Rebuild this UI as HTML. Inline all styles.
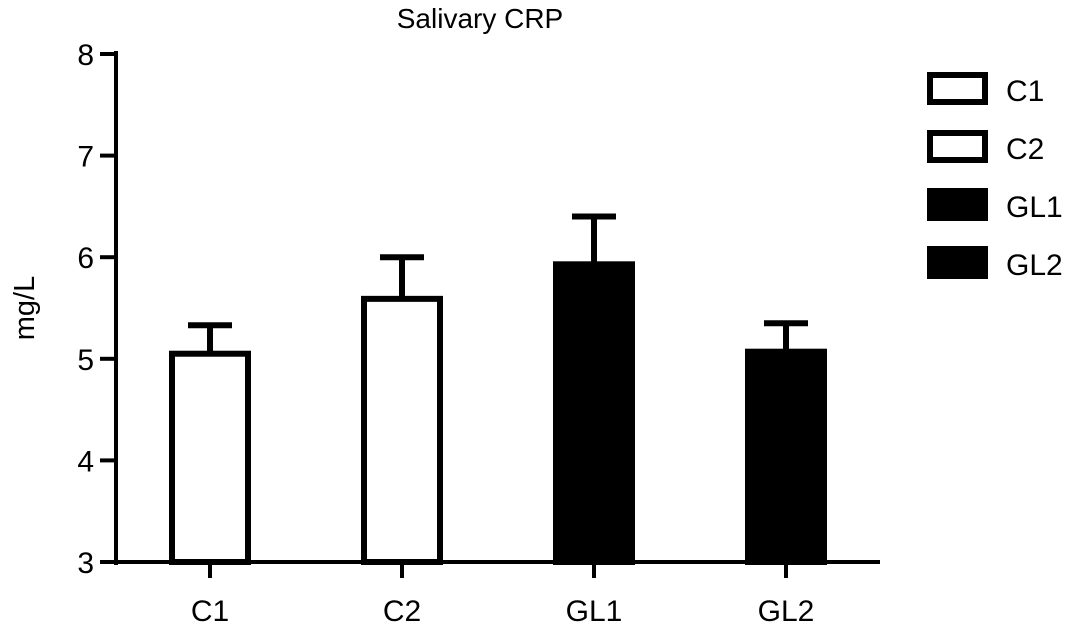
<!DOCTYPE html>
<html><head><meta charset="utf-8"><style>
body{margin:0;background:#fff;}
text{font-family:"Liberation Sans",sans-serif;fill:#000;}
</style></head><body>
<svg id="chart" width="1080" height="627" xmlns="http://www.w3.org/2000/svg">
<text x="480" y="28" font-size="28" text-anchor="middle">Salivary CRP</text>
<text transform="translate(34,308) rotate(-90)" font-size="29" text-anchor="middle">mg/L</text>
<g id="axes"></g><g id="bars"></g><g id="legend"></g>
</svg>
<script>
const categories=["C1","C2","GL1","GL2"];
const means=[5.05,5.59,5.93,5.07];
const errors=[0.28,0.41,0.47,0.28];
const fills=["#fff","#fff","#000","#000"];
const yTicks=[3,4,5,6,7,8];
const NS="http://www.w3.org/2000/svg";
const y0=562,yTop=54,vMin=3,vMax=8;
const yS=v=>y0-(v-vMin)/(vMax-vMin)*(y0-yTop);
const xS=i=>210+i*192;
function mk(tag,attrs,parent){const e=document.createElementNS(NS,tag);for(const k in attrs)e.setAttribute(k,attrs[k]);parent.appendChild(e);return e;}
const axes=document.getElementById('axes'),bars=document.getElementById('bars'),legend=document.getElementById('legend');
let l=mk('line',{x1:116,y1:yTop-3,x2:116,y2:y0+3,stroke:'#000','stroke-width':4},axes);


l=mk('line',{x1:100,y1:y0,x2:880,y2:y0,stroke:'#000','stroke-width':4},axes);


yTicks.forEach(v=>{
 const t=mk('line',{x1:100,y1:yS(v),x2:116,y2:yS(v),stroke:'#000','stroke-width':4},axes);
 
 
 const tx=mk('text',{x:94,y:yS(v)+11,'font-size':30,'text-anchor':'end'},axes);tx.textContent=v;
 
 
});
categories.forEach((c,i)=>{
 const x=xS(i),w=76;
 const t=mk('line',{x1:x,y1:y0,x2:x,y2:y0+16,stroke:'#000','stroke-width':4},axes);
 
 
 const tx=mk('text',{x:x,y:y0+59,'font-size':30,'text-anchor':'middle'},axes);tx.textContent=c;
 
 
 const top=yS(means[i]),et=yS(means[i]+errors[i]);
 const eb=mk('line',{x1:x,y1:top,x2:x,y2:et,stroke:'#000','stroke-width':6},bars);
 
 
 const cap=mk('line',{x1:x-22,y1:et,x2:x+22,y2:et,stroke:'#000','stroke-width':6},bars);
 
 
 const r=mk('rect',{x:x-w/2,y:top,width:w,height:y0-top,fill:fills[i],stroke:'#000','stroke-width':6},bars);
 
 
 const ly=75+i*58;
 const lr=mk('rect',{x:930,y:ly,width:55,height:27,fill:fills[i],stroke:'#000','stroke-width':6},legend);
 
 
 const lt=mk('text',{x:1006,y:ly+26,'font-size':30},legend);lt.textContent=c;
 
 
});
</script>
</body></html>
